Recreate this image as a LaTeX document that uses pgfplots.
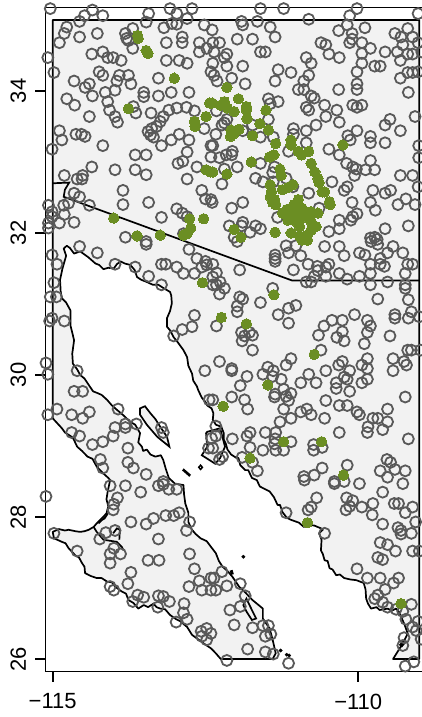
\documentclass[border=0pt]{standalone}
\usepackage{pgfplots}
\pgfplotsset{compat=1.18}
\usepackage{fontspec}
\setmainfont{Liberation Sans}
\definecolor{landgray}{HTML}{F2F2F2}
\definecolor{ringgray}{HTML}{595959}
\definecolor{dotgreen}{HTML}{6B8E23}
\begin{document}
\begin{tikzpicture}
\path[use as bounding box] (-45.5pt,-45.5pt) rectangle (376.5pt,671.5pt);
\begin{axis}[
  scale only axis, width=376.5pt, height=663.8pt,
  xmin=-115.118, xmax=-108.956, ymin=25.824, ymax=35.173,
  axis x line=box, axis y line=left,
  axis line style={-, line width=1.6pt, black},
  tick align=outside, major tick length=10pt,
  tick style={line width=1.6pt, black},
  xtick pos=bottom, ytick pos=left,
  xtick={-115,-110}, xticklabels={−115,−110},
  ytick={26,28,30,32,34}, yticklabels={26,28,30,32,34},
  xticklabel style={font=\fontsize{22}{24}\selectfont, yshift=-11pt, inner ysep=1pt},
  yticklabel style={font=\fontsize{22}{26}\selectfont, rotate=90, anchor=south, yshift=6pt},
]
% land
\addplot[fill=landgray, draw=black, line width=1.7pt, line join=round] coordinates {
(-115,35)(-109,35)(-109,26)(-109.43,26)(-109.27,26.22)(-109.19,26.36)(-109.24,26.48)(-109.30,26.60)(-109.33,26.66)(-109.38,26.71)(-109.45,26.68)(-109.52,26.71)(-109.58,26.70)(-109.65,26.69)(-109.70,26.73)(-109.79,26.71)(-109.84,26.78)(-109.87,26.85)(-109.88,26.98)(-109.91,27.07)(-109.97,27.09)(-110.03,27.11)(-110.13,27.12)(-110.23,27.14)(-110.30,27.19)(-110.36,27.18)(-110.42,27.26)(-110.47,27.28)(-110.50,27.38)(-110.55,27.39)(-110.58,27.48)(-110.61,27.53)(-110.60,27.68)(-110.64,27.77)(-110.58,27.82)(-110.61,27.84)(-110.72,27.88)(-110.83,27.89)(-110.89,27.86)(-110.97,27.92)(-111.10,27.96)(-111.17,27.99)(-111.24,28.07)(-111.28,28.17)(-111.32,28.17)(-111.38,28.28)(-111.45,28.36)(-111.52,28.39)(-111.61,28.43)(-111.66,28.52)(-111.74,28.55)(-111.80,28.66)(-111.85,28.66)(-111.93,28.73)(-111.96,28.83)(-111.99,28.83)(-112.08,28.88)(-112.14,28.95)(-112.17,29.04)(-112.20,29.09)(-112.20,29.18)(-112.24,29.27)(-112.33,29.30)(-112.38,29.37)(-112.37,29.46)(-112.40,29.53)(-112.47,29.57)(-112.50,29.62)(-112.56,29.68)(-112.62,29.79)(-112.64,29.84)(-112.70,29.92)(-112.72,30.02)(-112.78,30.13)(-112.80,30.25)(-112.86,30.35)(-112.97,30.48)(-113.02,30.53)(-113.08,30.63)(-113.13,30.68)(-113.13,30.80)(-113.08,30.90)(-113.05,31.01)(-113.06,31.12)(-113.08,31.17)(-113.18,31.22)(-113.27,31.27)(-113.36,31.27)(-113.46,31.31)(-113.55,31.34)(-113.62,31.38)(-113.66,31.48)(-113.73,31.55)(-113.82,31.57)(-113.89,31.60)(-113.95,31.56)(-114.00,31.50)(-114.09,31.51)(-114.17,31.49)(-114.24,31.55)(-114.30,31.57)(-114.42,31.66)(-114.55,31.74)(-114.65,31.71)(-114.72,31.79)(-114.77,31.82)(-114.82,31.78)(-114.78,31.68)(-114.80,31.62)(-114.84,31.50)(-114.88,31.34)(-114.87,31.18)(-114.85,31.08)(-114.78,31.02)(-114.71,30.91)(-114.71,30.70)(-114.65,30.49)(-114.68,30.30)(-114.67,30.16)(-114.60,30.08)(-114.55,30.00)(-114.48,29.95)(-114.41,29.86)(-114.34,29.77)(-114.28,29.75)(-114.20,29.72)(-114.11,29.65)(-114.03,29.57)(-113.95,29.51)(-113.84,29.43)(-113.73,29.34)(-113.65,29.30)(-113.57,29.18)(-113.60,29.05)(-113.54,28.99)(-113.52,28.93)(-113.46,28.95)(-113.40,28.88)(-113.32,28.85)(-113.23,28.87)(-113.19,28.80)(-113.15,28.68)(-113.10,28.55)(-113.00,28.47)(-112.86,28.45)(-112.85,28.32)(-112.83,28.19)(-112.78,28.06)(-112.78,27.93)(-112.72,27.82)(-112.66,27.76)(-112.58,27.70)(-112.48,27.66)(-112.41,27.58)(-112.33,27.49)(-112.28,27.38)(-112.22,27.30)(-112.14,27.24)(-112.06,27.16)(-111.95,27.02)(-111.84,26.93)(-111.73,26.83)(-111.56,26.71)(-111.56,26.57)(-111.45,26.43)(-111.40,26.27)(-111.35,26.08)(-111.40,26.00)(-112.25,26.00)(-112.33,26.08)(-112.41,26.15)(-112.53,26.22)(-112.72,26.34)(-112.80,26.45)(-112.91,26.53)(-112.98,26.56)(-113.08,26.62)(-113.16,26.70)(-113.24,26.71)(-113.30,26.73)(-113.35,26.78)(-113.44,26.73)(-113.51,26.76)(-113.60,26.71)(-113.68,26.79)(-113.76,26.83)(-113.80,26.92)(-113.87,26.95)(-113.98,27.02)(-114.03,27.08)(-114.11,27.09)(-114.20,27.14)(-114.28,27.14)(-114.38,27.17)(-114.47,27.21)(-114.48,27.30)(-114.52,27.35)(-114.57,27.43)(-114.63,27.46)(-114.74,27.56)(-114.79,27.63)(-114.85,27.65)(-114.98,27.70)(-115.00,27.79)(-114.90,27.83)(-114.80,27.81)(-114.74,27.82)(-114.63,27.80)(-114.55,27.79)(-114.48,27.80)(-114.41,27.82)(-114.33,27.86)(-114.28,27.91)(-114.12,28.05)(-114.09,28.15)(-114.12,28.25)(-114.10,28.36)(-114.06,28.52)(-114.09,28.55)(-114.18,28.62)(-114.28,28.71)(-114.35,28.82)(-114.43,28.85)(-114.52,28.93)(-114.60,28.99)(-114.66,29.10)(-114.69,29.13)(-114.80,29.19)(-114.85,29.25)(-115.00,29.39)
} -- cycle;
% islands
\addplot[fill=landgray, draw=black, line width=1.7pt] coordinates {(-113.57,29.53)(-113.49,29.56)(-113.40,29.46)(-113.32,29.38)(-113.24,29.27)(-113.13,29.13)(-113.09,28.99)(-113.29,29.13)(-113.46,29.30)(-113.57,29.44)} -- cycle;
\addplot[fill=landgray, draw=black, line width=1.7pt] coordinates {(-112.47,29.20)(-112.26,29.25)(-112.18,28.99)(-112.26,28.83)(-112.34,28.75)(-112.56,28.87)(-112.47,28.99)(-112.49,29.18)} -- cycle;
\addplot[fill=landgray, draw=black, line width=1.7pt] coordinates {(-111.83,26.85)(-111.74,26.69)(-111.67,26.57)(-111.74,26.55)(-111.83,26.67)(-111.88,26.76)} -- cycle;
\addplot[draw=black, line width=1.5pt] coordinates {(-112.61,28.70)(-112.58,28.73)(-112.55,28.70)(-112.58,28.67)} -- cycle;
\addplot[draw=black, line width=2.6pt] coordinates {(-112.87,28.67)(-112.75,28.58)};
\addplot[draw=black, line width=3pt] coordinates {(-112.08,27.25)(-112.06,27.19)};
\addplot[draw=black, line width=4pt] coordinates {(-109.31,26.18)(-109.25,26.24)};
\addplot[only marks, mark=*, mark size=1.7pt, black] coordinates {(-111.88,27.44)(-111.27,26.12)(-111.13,26.05)(-111.17,26.06)};
% lagoons
\addplot[draw=black, line width=1.7pt] coordinates {(-114.25,27.91)(-114.12,28.02)(-114.10,28.05)(-114.15,27.98)(-114.25,27.93)};
\addplot[draw=black, line width=1.7pt] coordinates {(-114.28,27.79)(-114.17,27.68)(-113.95,27.65)(-113.87,27.58)(-113.84,27.53)};
\addplot[draw=black, line width=1.7pt] coordinates {(-114.01,27.77)(-113.95,27.84)(-113.90,27.82)(-113.91,27.68)};
\addplot[draw=black, line width=1.7pt] coordinates {(-114.33,27.86)(-114.28,27.79)};
% borders
\addplot[draw=black, line width=1.7pt] coordinates {(-115,32.70)(-114.73,32.71)(-114.80,32.61)(-114.82,32.51)(-111.08,31.33)(-109,31.33)};
% rings
\addplot[only marks, mark=o, mark size=5.5pt, mark options={draw=ringgray, line width=1.8pt, fill=none}] coordinates {
(-115.04,35.16)(-114.48,35.06)(-114.35,35.14)(-114.18,35.06)(-114.56,34.98)(-113.43,35.09)(-113.47,34.97)(-113.08,35.16)(-112.97,35.09)(-112.72,35.16)(-112.80,35.02)(-113.05,34.95)(-113.18,34.89)(-112.97,34.94)(-114.77,34.90)(-114.81,34.81)(-114.89,34.68)(-114.56,34.76)(-114.27,34.81)(-113.81,34.81)(-113.69,34.88)(-113.79,34.74)(-113.76,34.71)(-113.69,34.60)(-113.14,34.68)(-112.88,34.76)(-112.88,34.68)(-112.52,34.93)(-112.60,34.68)(-112.60,34.55)(-112.48,34.60)(-114.36,34.52)(-114.18,34.55)(-114.10,34.47)(-114.01,34.47)(-113.88,34.43)(-113.14,34.43)(-112.93,34.43)(-112.80,34.39)(-115.08,34.47)(-114.98,34.26)(-114.24,34.27)(-114.18,34.22)(-114.65,34.14)(-114.40,34.10)(-114.47,34.05)(-113.91,34.22)(-113.76,34.22)(-113.95,34.14)(-113.72,34.10)(-113.98,34.01)(-114.14,33.98)(-114.35,33.93)(-113.27,34.18)(-113.51,33.98)(-113.51,33.92)(-113.27,33.93)(-113.06,33.98)(-112.77,33.98)(-112.41,34.27)(-114.77,33.89)(-114.64,33.80)(-114.10,33.85)(-114.07,33.73)(-114.40,33.64)(-113.98,33.64)(-113.94,33.56)(-113.68,33.78)(-113.64,33.69)(-113.39,33.69)(-113.10,33.73)(-112.97,33.76)(-112.81,33.77)(-112.68,33.72)(-113.19,33.64)(-113.24,33.57)(-113.30,33.50)(-113.38,33.47)(-113.44,33.43)(-113.40,33.38)(-113.35,33.35)(-112.52,33.47)(-114.89,33.44)(-114.85,33.31)(-114.62,33.39)(-114.53,33.39)(-114.47,33.36)(-114.18,33.23)(-113.22,33.23)(-113.06,33.31)(-112.93,33.39)(-112.77,33.31)(-112.41,33.23)(-115.01,33.18)(-113.65,33.10)(-113.47,33.10)(-112.80,33.14)(-112.87,33.01)(-112.95,32.98)(-112.64,32.93)(-114.36,32.93)(-113.98,32.89)(-113.65,32.89)(-113.47,32.82)(-114.81,32.81)(-114.51,32.81)(-114.60,32.76)(-114.52,32.76)(-112.80,32.76)(-113.85,32.60)(-112.56,32.60)(-114.65,32.56)(-114.56,32.51)(-112.50,32.48)(-112.41,32.47)(-114.74,32.42)(-114.82,32.39)(-114.40,32.39)(-113.85,32.40)(-113.43,32.43)(-112.97,32.34)(-115.07,32.39)(-115.01,32.30)(-115.01,32.23)(-114.81,32.26)(-113.22,32.22)(-112.88,32.28)(-112.80,32.23)(-115.07,32.14)(-114.89,32.14)(-114.65,32.15)(-115.07,32.07)(-113.81,31.94)(-113.47,31.88)(-112.86,31.99)
(-111.60,35.16)(-111.77,35.19)(-111.22,35.16)(-110.14,35.06)(-110.02,35.16)(-109.02,35.09)(-108.95,35.09)(-110.81,35.01)(-111.91,34.98)(-111.89,34.93)(-111.65,34.98)(-111.44,34.90)(-111.36,34.76)(-110.18,34.93)(-109.89,34.89)(-110.32,34.85)(-110.10,34.81)(-110.10,34.73)(-110.14,34.68)(-109.94,34.68)(-109.40,34.81)(-109.19,34.88)(-109.30,34.76)(-109.11,34.76)(-109.02,34.68)(-109.27,34.65)(-112.39,34.86)(-112.27,34.68)(-111.98,34.73)(-111.73,34.73)(-112.38,34.68)(-111.60,34.55)(-111.52,34.55)(-110.61,34.68)(-110.53,34.65)(-110.48,34.52)(-110.31,34.47)(-109.80,34.60)(-109.56,34.55)(-109.94,34.53)(-109.36,34.55)(-109.19,34.52)(-109.11,34.52)(-109.31,34.43)(-108.96,34.55)(-110.85,34.47)(-110.77,34.39)(-109.94,34.39)(-109.73,34.35)(-109.64,34.35)(-112.36,34.55)(-112.15,34.52)(-112.19,34.47)(-112.15,34.35)(-111.89,34.35)(-112.38,34.39)(-111.31,34.30)(-111.10,34.26)(-110.81,34.22)(-110.02,34.27)(-109.19,34.26)(-109.11,34.26)(-109.02,34.27)(-109.31,34.18)(-112.36,34.22)(-112.31,34.14)(-112.07,34.18)(-111.85,34.10)(-111.36,34.14)(-110.89,34.14)(-110.02,34.10)(-110.02,34.02)(-110.32,34.02)(-110.98,34.02)(-110.89,34.02)(-110.77,33.93)(-110.72,33.90)(-109.18,33.98)(-111.47,33.89)(-111.31,33.85)(-111.44,33.82)(-110.55,33.80)(-110.09,33.80)(-109.94,33.80)(-110.02,33.77)(-110.85,33.77)(-110.81,33.73)(-110.35,33.73)(-112.32,33.72)(-112.15,33.60)(-110.53,33.64)(-110.31,33.56)(-109.07,33.64)(-112.19,33.55)(-112.23,33.52)(-111.47,33.60)(-111.73,33.52)(-110.69,33.52)(-109.48,33.60)(-109.56,33.52)(-109.31,33.44)(-111.06,33.47)(-110.85,33.44)(-110.02,33.44)(-112.33,33.39)(-111.89,33.44)(-111.60,33.35)(-111.39,33.35)(-111.06,33.39)(-110.17,33.37)(-110.13,33.31)(-109.80,33.36)(-109.80,33.27)(-109.56,33.27)(-112.38,33.23)(-110.85,33.27)(-111.14,33.15)(-110.48,33.18)(-110.31,33.10)(-109.01,33.23)(-112.06,33.15)(-112.07,33.10)(-112.16,33.10)(-112.27,33.06)(-112.41,33.07)(-109.01,33.06)(-111.60,32.98)(-111.98,32.93)(-112.19,32.90)(-111.37,32.93)(-110.19,32.98)(-110.09,32.93)(-110.03,32.90)(-109.80,33.02)(-109.88,32.89)(-109.73,32.89)(-110.06,32.81)(-111.40,32.85)(-111.68,32.77)(-111.56,32.72)(-111.39,32.72)(-111.18,32.77)(-112.23,32.69)(-109.31,32.81)(-109.11,32.81)(-110.43,32.72)(-110.18,32.65)(-110.23,32.60)(-109.02,32.65)(-109.76,32.60)(-109.47,32.60)(-109.56,32.56)(-110.81,32.56)(-111.07,32.65)(-112.39,32.43)(-111.89,32.43)(-112.07,32.35)(-109.80,32.43)(-109.22,32.48)(-109.35,32.40)(-109.07,32.40)(-110.10,32.43)(-109.72,32.32)(-110.64,32.35)(-110.02,32.27)(-110.09,32.23)(-110.12,32.18)(-110.31,32.18)(-111.32,32.22)(-112.11,32.10)(-111.89,32.15)(-111.91,32.10)(-111.68,32.10)(-111.60,32.06)(-111.77,32.01)(-110.31,32.06)(-110.48,32.02)(-109.56,32.06)(-109.18,32.10)(-112.03,31.94)(-109.80,31.93)(-109.73,31.94)(-109.69,31.91)
(-113.47,31.84)(-114.56,31.81)(-112.77,31.77)(-114.27,31.72)(-115.01,31.69)(-114.93,31.56)(-113.98,31.56)(-113.65,31.52)(-113.22,31.56)(-113.15,31.56)(-112.97,31.52)(-112.64,31.64)(-112.50,31.60)(-112.56,31.52)(-112.48,31.55)(-112.86,31.43)(-112.68,31.43)(-113.43,31.39)(-113.22,31.27)(-114.98,31.30)(-115.04,31.10)(-114.94,31.10)(-112.38,31.27)(-115.01,30.80)(-115.05,30.76)(-114.81,30.76)(-112.68,30.84)(-112.88,30.64)(-112.72,30.68)(-113.02,30.55)(-115.11,30.17)(-115.08,30.01)(-114.60,30.06)(-112.51,30.06)(-114.65,29.77)(-114.51,29.77)(-112.44,29.65)(-114.93,29.52)(-115.08,29.44)(-113.93,29.52)(-114.40,29.48)(-114.69,29.44)(-114.51,29.39)(-113.63,29.31)(-113.81,29.31)(-113.98,29.26)(-113.81,29.26)(-113.22,29.26)(-113.19,29.19)(-114.69,29.19)(-114.56,29.14)(-114.01,29.14)(-114.18,29.06)(-114.35,29.02)(-113.77,28.97)(-112.40,29.11)(-112.45,28.97)(-114.22,28.81)(-113.77,28.77)(-113.68,28.69)(-114.18,28.69)(-113.47,28.60)(-113.19,28.50)
(-111.98,31.88)(-111.18,31.82)(-111.02,31.82)(-110.55,31.81)(-110.31,31.81)(-109.79,31.88)(-109.68,31.84)(-109.43,31.81)(-111.14,31.72)(-110.94,31.68)(-110.23,31.68)(-109.98,31.72)(-109.89,31.69)(-109.52,31.72)(-109.64,31.64)(-109.27,31.72)(-111.36,31.69)(-111.36,31.64)(-111.36,31.60)(-112.38,31.56)(-110.82,31.56)(-110.48,31.56)(-110.67,31.53)(-109.80,31.56)(-109.64,31.56)(-109.57,31.53)(-109.19,31.56)(-109.11,31.56)(-112.32,31.44)(-111.94,31.48)(-111.06,31.48)(-110.53,31.52)(-110.66,31.47)(-109.23,31.43)(-110.31,31.43)(-110.53,31.39)(-109.98,31.39)(-109.80,31.43)(-110.72,31.39)(-110.77,31.31)(-110.85,31.31)(-110.18,31.35)(-109.80,31.27)(-109.52,31.31)(-109.23,31.27)(-109.23,31.22)(-112.38,31.38)(-112.26,31.31)(-112.32,31.27)(-112.19,31.22)(-112.27,31.14)(-111.40,31.22)(-111.94,31.10)(-111.89,31.07)(-111.98,30.97)(-111.98,30.89)(-111.60,31.02)(-109.68,31.07)(-109.18,31.06)(-111.02,30.98)(-111.14,30.94)(-111.31,30.85)(-111.14,30.73)(-110.06,30.85)(-109.13,30.89)(-109.40,30.85)(-109.40,30.80)(-109.18,30.80)(-110.43,30.77)(-110.26,30.77)(-109.85,30.77)(-109.80,30.69)(-110.56,30.69)(-109.00,30.82)(-112.32,30.69)(-109.85,30.60)(-110.26,30.61)(-110.65,30.56)(-110.35,30.53)(-110.23,30.48)(-109.48,30.55)(-111.91,30.60)(-111.78,30.60)(-111.73,30.56)(-111.86,30.55)(-111.90,30.48)(-109.90,30.44)(-111.73,30.35)(-110.61,30.35)(-109.19,30.35)(-109.13,30.35)(-108.98,30.35)(-112.27,30.19)(-111.10,30.23)(-111.18,30.14)(-109.43,30.23)(-109.85,30.23)(-110.26,30.19)(-110.32,30.14)(-109.25,30.19)(-109.21,30.14)(-112.07,30.09)(-112.07,30.06)(-111.48,30.11)(-111.56,30.01)(-111.39,30.06)(-109.94,30.14)(-109.85,30.09)(-110.53,30.06)(-110.14,30.06)(-109.43,30.06)(-110.81,30.01)(-111.82,29.98)(-111.40,29.98)(-111.26,29.94)(-110.23,29.97)(-111.93,29.85)(-110.94,29.89)(-110.69,29.89)(-110.36,29.89)(-110.36,29.81)(-110.14,29.77)(-109.94,29.89)(-109.85,29.94)(-110.18,29.94)(-111.22,29.80)(-111.36,29.73)(-111.37,29.69)(-111.10,29.74)(-111.18,29.70)(-111.14,29.64)(-109.23,29.69)(-112.07,29.69)(-112.38,29.65)(-111.86,29.65)(-110.53,29.64)(-111.81,29.52)(-111.22,29.52)(-110.84,29.52)(-110.94,29.48)(-110.77,29.44)(-110.31,29.57)(-110.18,29.57)(-110.02,29.48)(-109.98,29.44)(-109.52,29.52)(-111.10,29.39)(-110.55,29.39)(-109.76,29.39)(-109.68,29.39)(-109.52,29.34)(-111.28,29.34)(-109.84,29.27)(-111.52,29.19)(-111.35,29.19)(-111.77,29.19)(-111.82,29.14)(-110.31,29.19)(-109.85,29.19)(-109.60,29.23)(-112.06,29.10)(-112.33,29.28)(-112.33,29.14)(-111.36,29.10)(-111.10,29.06)(-111.37,29.03)(-109.18,29.10)(-111.77,28.98)(-111.56,28.94)(-111.35,28.94)(-111.22,28.94)(-110.73,29.02)(-110.59,28.98)(-110.73,28.94)(-112.38,28.97)(-112.22,28.85)(-112.27,28.81)(-111.90,28.84)(-111.73,28.77)(-109.53,28.81)(-109.47,28.77)(-110.18,28.73)(-111.65,28.65)(-110.59,28.69)(-109.64,28.65)(-109.40,28.67)(-109.23,28.65)(-110.89,28.57)(-110.72,28.59)(-110.39,28.50)(-109.52,28.56)
(-115.11,28.29)(-114.06,28.44)(-113.81,28.44)(-113.56,28.35)(-113.27,28.44)(-113.19,28.46)(-113.10,28.39)(-112.97,28.39)(-113.94,28.27)(-114.00,28.18)(-114.01,28.10)(-113.35,27.98)(-113.15,28.02)(-113.02,28.02)(-112.93,28.06)(-113.72,27.93)(-113.47,27.90)(-112.76,27.93)(-112.81,27.81)(-114.98,27.77)(-114.13,27.78)(-113.98,27.81)(-114.23,27.69)(-113.27,27.69)(-114.00,27.56)(-114.60,27.52)(-114.06,27.48)(-113.89,27.48)(-112.76,27.48)(-113.44,27.39)(-113.26,27.39)(-114.06,27.35)(-112.68,27.27)(-113.72,27.22)(-113.77,27.06)(-112.60,27.10)(-112.41,27.14)(-112.77,27.02)(-112.56,26.97)(-112.41,26.97)(-114.06,27.02)(-114.00,26.97)(-113.27,26.89)(-113.19,26.88)(-113.61,26.90)(-113.51,26.87)(-113.69,26.81)(-113.09,26.81)(-112.85,26.78)(-113.28,26.73)(-112.86,26.65)(-112.80,26.56)(-112.98,26.52)(-112.57,26.39)(-112.48,26.43)(-112.56,26.32)(-112.48,26.27)(-112.41,26.36)
(-110.88,28.52)(-110.39,28.47)(-110.23,28.50)(-109.98,28.47)(-109.60,28.35)(-109.27,28.47)(-110.68,28.27)(-110.77,28.14)(-110.82,28.10)(-111.18,28.06)(-110.19,28.27)(-110.09,28.23)(-110.14,28.15)(-110.20,28.10)(-109.94,28.14)(-109.76,28.19)(-109.77,28.03)(-109.41,28.19)(-109.34,28.19)(-109.11,28.14)(-109.23,28.06)(-109.60,27.90)(-109.06,27.93)(-109.35,27.85)(-109.30,27.81)(-109.30,27.76)(-109.13,27.77)(-110.55,27.77)(-109.64,27.64)(-109.52,27.61)(-109.39,27.52)(-109.11,27.52)(-109.00,27.52)(-109.68,27.43)(-109.60,27.40)(-110.02,27.27)(-109.85,27.14)(-109.64,27.14)(-109.34,27.14)(-109.42,27.07)(-109.56,26.98)(-109.68,26.90)(-109.73,26.85)(-109.13,26.77)(-109.60,26.80)(-109.52,26.73)(-109.38,26.70)(-109.27,26.67)(-109.22,26.56)(-109.02,26.53)(-109.11,26.45)(-109.05,26.40)(-108.97,26.28)(-109.25,26.30)(-109.27,26.19)(-109.09,25.96)(-109.23,25.90)(-112.23,27.23)(-112.36,27.14)(-112.15,27.03)(-112.33,26.97)(-111.93,27.06)(-111.85,26.89)(-112.10,26.69)(-111.93,26.74)(-112.03,26.48)(-111.73,26.44)(-111.56,26.47)(-111.47,26.47)(-111.43,26.35)(-111.52,26.32)(-111.81,26.14)(-111.52,26.10)(-111.39,26.07)(-112.15,25.98)(-111.14,25.94)(-111.31,25.80)
};
% green dots
\addplot[only marks, mark=*, mark size=5.2pt, mark options={draw=dotgreen, fill=dotgreen, line width=0pt}] coordinates {
(-113.61,34.78)(-113.60,34.74)(-113.47,34.57)(-113.44,34.53)(-113.01,34.18)(-113.76,33.75)(-112.43,33.83)(-112.49,33.64)(-112.68,33.57)(-112.67,33.50)(-112.49,32.89)(-112.42,32.86)(-114.00,32.21)(-112.76,32.20)(-112.53,32.20)(-112.74,32.07)(-112.80,31.99)(-112.86,31.97)(-113.62,31.96)(-113.24,31.97)
(-112.15,34.05)(-111.96,33.89)(-112.39,33.83)(-112.19,33.85)(-112.25,33.80)(-112.14,33.76)(-112.03,33.71)(-111.83,33.78)(-111.83,33.73)(-111.82,33.61)(-111.51,33.73)(-111.61,33.54)(-111.47,33.45)(-111.73,33.37)(-112.08,33.45)(-111.95,33.46)(-112.03,33.40)(-112.09,33.36)(-111.35,33.26)(-111.10,33.31)(-111.10,33.24)(-110.25,33.24)(-110.98,33.15)(-110.93,33.10)(-110.81,33.15)(-111.38,33.10)(-111.45,33.07)(-111.75,33.00)(-110.77,32.98)(-112.15,32.83)(-112.38,32.86)(-111.28,32.90)(-111.26,32.81)(-110.71,32.86)(-110.66,32.77)(-110.64,32.71)(-111.44,32.68)(-111.07,32.68)(-111.24,32.61)(-110.55,32.58)(-110.47,32.44)(-110.46,32.40)(-110.59,32.58)(-111.15,32.64)
(-111.44,32.51)(-111.37,32.47)(-111.35,32.40)(-111.40,32.43)(-111.42,32.58)(-110.98,32.47)(-111.10,32.35)(-111.24,32.28)(-111.13,32.25)(-111.02,32.33)(-110.88,32.30)(-110.77,32.30)(-110.66,32.28)(-111.15,32.18)(-111.02,32.16)(-110.94,32.23)(-110.96,32.09)(-110.77,32.16)(-110.69,32.09)(-110.77,32.04)(-111.36,32.01)(-111.10,32.00)(-110.96,31.96)(-110.83,31.97)(-112.03,32.05)(-111.92,31.94)(-111.05,32.40)(-111.17,32.33)(-111.05,32.25)(-110.92,32.35)(-110.85,32.22)
(-110.92,31.90)(-110.83,31.90)(-111.38,31.13)(-112.24,30.81)(-111.83,30.72)(-110.72,30.29)(-111.48,29.86)(-112.21,29.56)(-111.22,29.06)(-110.60,29.06)(-111.77,28.83)(-110.24,28.59)(-112.55,31.30)(-110.83,27.92)(-109.30,26.78)
};
\end{axis}
\end{tikzpicture}
\end{document}
